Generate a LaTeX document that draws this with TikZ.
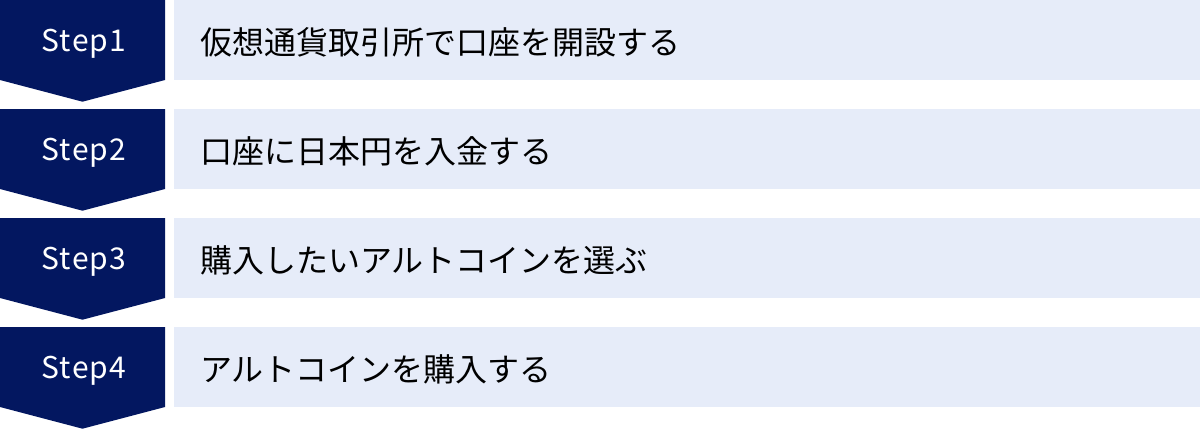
\documentclass[tikz,border=0pt]{standalone}
\usepackage{fontspec}
\usepackage{tikz}
\newfontfamily\jpfont{Noto Sans CJK JP}
\newfontfamily\steplabelfont[LetterSpace=4]{Noto Sans CJK JP}
\definecolor{stepnavy}{RGB}{3,23,96}
\definecolor{steplight}{RGB}{230,236,249}

\tikzset{
  steplabel/.style={anchor=base, text=white, inner sep=0pt, font=\steplabelfont\fontsize{30}{30}\selectfont},
  steptext/.style={anchor=west, inner sep=0pt, text=black, font=\jpfont\fontsize{32}{32}\selectfont}
}

\begin{document}
\begin{tikzpicture}[x=1pt, y=-1pt]
	
	\useasboundingbox (0,0) rectangle (1200,429);
	
	% Step arrows
	\fill[stepnavy] (0,0) -- (165,0) -- (165,80) -- (82.5,101.7) -- (0,80) -- cycle;
	\fill[stepnavy] (0,109) -- (165,109) -- (165,189) -- (82.5,210.7) -- (0,189) -- cycle;
	\fill[stepnavy] (0,218) -- (165,218) -- (165,298) -- (82.5,319.7) -- (0,298) -- cycle;
	\fill[stepnavy] (0,327) -- (165,327) -- (165,407) -- (82.5,428.7) -- (0,407) -- cycle;
	
	% Text bars
	\fill[steplight] (174,0) rectangle (1200,80);
	\fill[steplight] (174,109) rectangle (1200,189);
	\fill[steplight] (174,218) rectangle (1200,298);
	\fill[steplight] (174,327) rectangle (1200,407);
	
	% Step labels
	\node[steplabel] (s1) at (84,51.5) {Step1};
	\node[steplabel] (s2) at (84,160.5) {Step2};
	\node[steplabel] (s3) at (84,269.5) {Step3};
	\node[steplabel] (s4) at (84,378.5) {Step4};
	
	% Step texts
	\node[steptext] (t1) at (200,42) {仮想通貨取引所で口座を開設する};
	\node[steptext] (t2) at (200,151) {口座に日本円を入金する};
	\node[steptext] (t3) at (200,260) {購入したいアルトコインを選ぶ};
	\node[steptext] (t4) at (200,369) {アルトコインを購入する};
	
\end{tikzpicture}
\end{document}
